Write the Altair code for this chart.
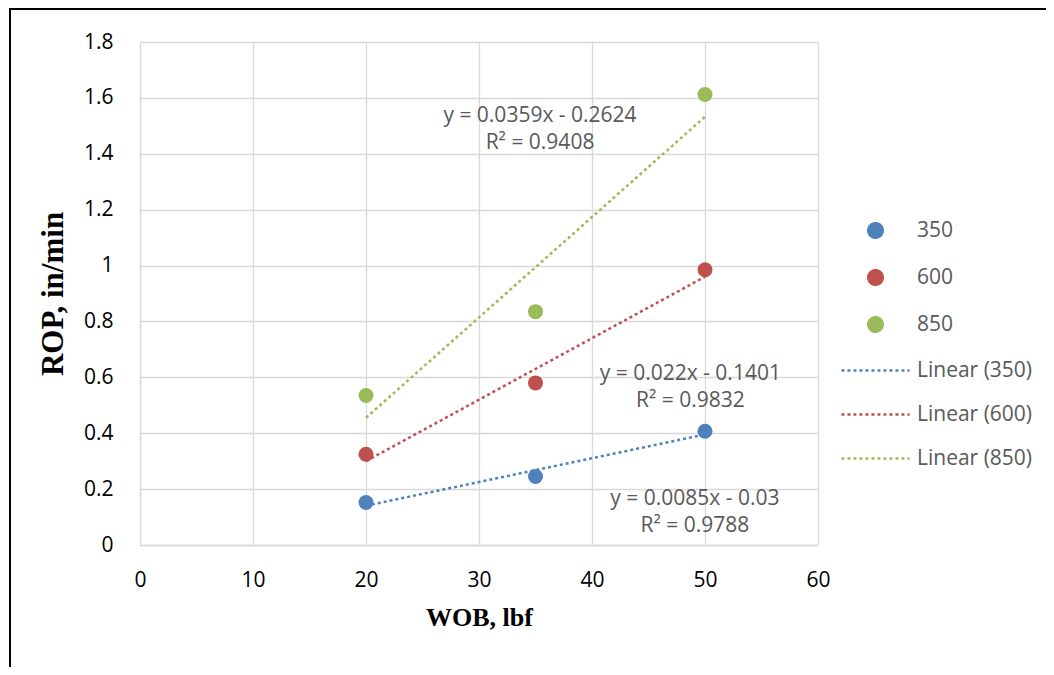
import altair as alt
import pandas as pd

# ---- data ----
wob = [20, 35, 50]
rop_350 = [0.152, 0.245, 0.407]
rop_600 = [0.325, 0.580, 0.985]
rop_850 = [0.535, 0.835, 1.612]
series = ["350", "600", "850"]
colors = ["#4F81BD", "#C0504D", "#9BBB59"]

x_ticks = [0, 10, 20, 30, 40, 50, 60]
y_ticks = [0, 0.2, 0.4, 0.6, 0.8, 1, 1.2, 1.4, 1.6, 1.8]

# trendline equation labels (text) and their anchor (data coordinates)
eq_text = ["y = 0.0085x - 0.03\nR² = 0.9788",
           "y = 0.022x - 0.1401\nR² = 0.9832",
           "y = 0.0359x - 0.2624\nR² = 0.9408"]
eq_x = [49.1, 48.7, 35.4]
eq_y = [0.165, 0.612, 1.535]

rows = []
for s, vals in zip(series, [rop_350, rop_600, rop_850]):
    for w, r in zip(wob, vals):
        rows.append({"rpm": s, "wob": w, "rop": r, "legend": s})
df = pd.DataFrame(rows)
eq_df = pd.DataFrame({"label": eq_text, "x": eq_x, "y": eq_y})

legend_domain = series + [f"Linear ({s})" for s in series]
LINE_PATH = "M-4.7,0H4.7"
color_scale = alt.Scale(domain=legend_domain, range=colors + colors)
shape_scale = alt.Scale(domain=legend_domain, range=["circle"] * 3 + [LINE_PATH] * 3)
dash_scale = alt.Scale(domain=legend_domain, range=[[1, 0]] * 3 + [[3, 3]] * 3)

W, H = 678, 503
PL, PT = 132, 34
TOTAL_W, TOTAL_H = 1038, 659

xs = alt.Scale(domain=[0, 60], nice=False)
ys = alt.Scale(domain=[0, 1.8], nice=False)

legend = alt.Legend(
    title=None, orient="none", legendX=725, legendY=178,
    labelFont="Open Sans", labelFontSize=21, labelColor="#595959",
    symbolStrokeWidth=2.5, symbolSize=210, labelOffset=31, rowPadding=22,
)

x_axis = alt.Axis(values=x_ticks, title="WOB, lbf", titlePadding=14, labelPadding=24,
                  labelFlush=False)
y_axis = alt.Axis(values=y_ticks, title="ROP, in/min", format="~g", titlePadding=14,
                  labelPadding=27, titleFontSize=31, labelFlush=False)

base = alt.Chart(df)

points = base.mark_point(filled=True, opacity=1, size=225).encode(
    x=alt.X("wob:Q", scale=xs, axis=x_axis),
    y=alt.Y("rop:Q", scale=ys, axis=y_axis),
    color=alt.Color("legend:N", scale=color_scale, legend=legend),
    shape=alt.Shape("legend:N", scale=shape_scale, legend=legend),
)

trend = base.transform_regression(
    "wob", "rop", groupby=["rpm"], extent=[20, 50]
).transform_calculate(
    legend="'Linear (' + datum.rpm + ')'"
).mark_line(strokeWidth=2.5, strokeCap="butt").encode(
    x=alt.X("wob:Q", scale=xs),
    y=alt.Y("rop:Q", scale=ys),
    color=alt.Color("legend:N", scale=color_scale, legend=legend),
    strokeDash=alt.StrokeDash("legend:N", scale=dash_scale, legend=legend),
    detail="rpm:N",
)

eqs = alt.Chart(eq_df).mark_text(
    font="Open Sans", fontSize=21, color="#595959", lineBreak="\n",
    lineHeight=27, align="center", baseline="middle",
).encode(x=alt.X("x:Q", scale=xs), y=alt.Y("y:Q", scale=ys), text="label:N")

frame_data = alt.Data(values=[{"f": 1}])
frame_top = alt.Chart(frame_data).mark_rule(color="black", strokeWidth=2).encode(
    x=alt.value(-PL + 1), x2=alt.value(TOTAL_W), y=alt.value(-PT + 1)
)
frame_left = alt.Chart(frame_data).mark_rule(color="black", strokeWidth=2).encode(
    x=alt.value(-PL + 2), y=alt.value(-PT + 1), y2=alt.value(TOTAL_H)
)

chart = alt.layer(trend, points, eqs, frame_top, frame_left).properties(
    width=W, height=H,
    autosize=alt.AutoSizeParams(type="none"),
    padding={"left": PL, "top": PT, "right": TOTAL_W - PL - W, "bottom": TOTAL_H - PT - H},
    background="white",
).configure_view(stroke=None).configure_axis(
    grid=True, gridColor="#D9D9D9", gridWidth=1.3,
    domainColor="#D9D9D9", domainWidth=1.3, ticks=False,
    labelFont="Open Sans", labelFontSize=21, labelColor="black",
    titleFont="Liberation Serif", titleFontSize=26, titleFontWeight="bold", titleColor="black",
)

chart.save("out.html", embed_options={"renderer": "svg", "actions": False})
